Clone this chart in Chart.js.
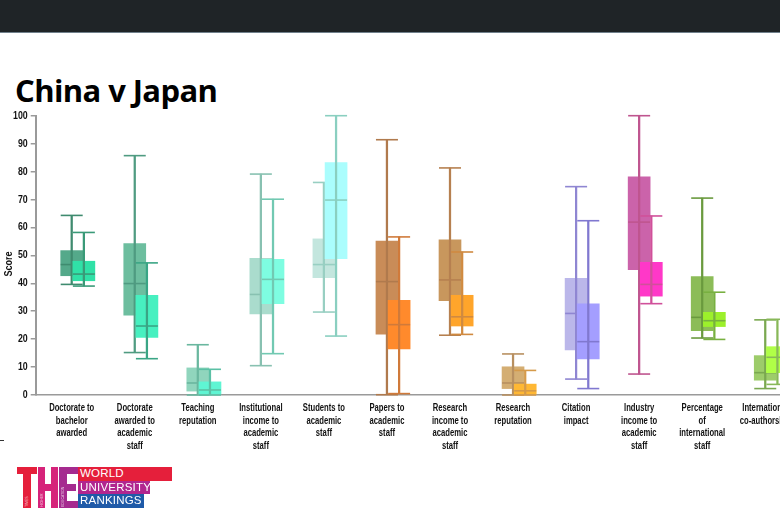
<!DOCTYPE html>
<html><head><meta charset="utf-8">
<script src="https://cdn.jsdelivr.net/npm/chart.js@4.4.1/dist/chart.umd.min.js"></script>
<style>
html,body{margin:0;padding:0;width:780px;height:520px;overflow:hidden;background:#fff;}
#hdr{position:absolute;left:0;top:0;width:780px;height:32px;background:#1f2427;border-bottom:1px solid #71818c;}
#title{position:absolute;left:15px;top:70px;font-family:'Open Sans',sans-serif;font-weight:700;font-size:31px;letter-spacing:-0.6px;color:#000;line-height:40px;white-space:nowrap;}
#wrap{position:absolute;left:0;top:0;width:830px;height:520px;}
#score{position:absolute;left:8px;top:264px;transform:translate(-50%,-50%) rotate(-90deg) scaleX(0.82);font-family:'Liberation Sans',Arial,sans-serif;font-weight:700;font-size:11px;color:#111;white-space:nowrap;}
#logo{position:absolute;left:16px;top:467px;width:160px;height:41px;}
#logo .b{position:absolute;}
#logo .bar{position:absolute;left:62px;height:13.7px;color:#fff;font-family:'Liberation Sans',Arial,sans-serif;font-size:11.5px;line-height:13.7px;padding-left:2px;box-sizing:border-box;letter-spacing:0.2px;}
#logo .tiny{position:absolute;color:rgba(255,255,255,0.75);font-family:'Liberation Sans',Arial,sans-serif;font-size:3.5px;transform:rotate(-90deg);transform-origin:left top;white-space:nowrap;}
#mark{position:absolute;left:0;top:440px;width:4px;height:1px;background:#333;}
</style></head>
<body>
<div id="hdr"></div>
<div id="title">China v Japan</div>
<div id="wrap"><canvas id="c" width="830" height="520"></canvas></div>
<div id="score">Score</div>
<div id="mark"></div>
<div id="logo">
  <div class="b" style="left:0.5px;top:0;width:20px;height:7px;background:#e51f3b"></div>
  <div class="b" style="left:7px;top:0;width:7.5px;height:41px;background:#e51f3b"></div>
  <div class="b" style="left:22px;top:0;width:7px;height:41px;background:#d6237a"></div>
  <div class="b" style="left:34.5px;top:0;width:7.5px;height:41px;background:#d6237a"></div>
  <div class="b" style="left:22px;top:17px;width:20px;height:7px;background:#d6237a"></div>
  <div class="b" style="left:43px;top:0;width:8px;height:41px;background:#a52a8f"></div>
  <div class="b" style="left:43px;top:0;width:19px;height:7px;background:#a52a8f"></div>
  <div class="b" style="left:43px;top:17px;width:17px;height:7px;background:#a52a8f"></div>
  <div class="b" style="left:43px;top:34px;width:19px;height:7px;background:#a52a8f"></div>
  <div class="tiny" style="left:8.5px;top:40px">TIMES</div>
  <div class="tiny" style="left:23.5px;top:40px">HIGHER</div>
  <div class="tiny" style="left:45px;top:40px">EDUCATION</div>
  <div class="bar" style="top:0;width:94px;background:#e51f3b">WORLD</div>
  <div class="bar" style="top:13.7px;width:72px;background:#b1268f">UNIVERSITY</div>
  <div class="bar" style="top:27.4px;width:66px;background:#1f5aa8">RANKINGS</div>
</div>
<script>
const categories = [
  ["Doctorate to","bachelor","awarded"],
  ["Doctorate","awarded to","academic","staff"],
  ["Teaching","reputation"],
  ["Institutional","income to","academic","staff"],
  ["Students to","academic","staff"],
  ["Papers to","academic","staff"],
  ["Research","income to","academic","staff"],
  ["Research","reputation"],
  ["Citation","impact"],
  ["Industry","income to","academic","staff"],
  ["Percentage","of","international","staff"],
  ["International","co-authorship"]
];
const yTicks = [0,10,20,30,40,50,60,70,80,90,100];

const chinaMin    = [39.6, 15.2, 0.0, 10.5, 29.7,  0.1, 21.4,  0.0,  5.7,   7.5, 20.4,  2.3];
const chinaQ1     = [42.7, 28.6, 1.4, 29.0, 42.0, 21.8, 33.8,  2.3, 16.1,  44.9, 23.0,  5.3];
const chinaMedian = [46.7, 39.9, 4.3, 36.0, 46.7, 40.6, 41.2,  4.3, 29.2,  61.9, 27.8,  8.0];
const chinaQ3     = [51.7, 54.2, 9.7, 48.9, 55.9, 55.1, 55.6, 10.1, 41.8,  78.1, 42.4, 14.1];
const chinaMax    = [64.3, 85.7, 18.0, 79.1, 76.1, 91.4, 81.3, 14.7, 74.6, 100.0, 70.5, 26.9];

const japanMin    = [39.0, 13.0, 0.0, 14.8, 21.1,  0.5, 21.7, 0.0,  2.3, 32.7, 19.9,  3.8];
const japanQ1     = [40.9, 20.6, 0.0, 32.7, 48.8, 16.5, 24.7, 0.0, 12.9, 35.4, 24.5,  8.0];
const japanMedian = [43.3, 24.7, 1.8, 41.4, 69.8, 25.2, 28.0, 1.5, 19.1, 39.6, 26.6, 13.5];
const japanQ3     = [47.9, 35.7, 4.7, 48.6, 83.2, 33.9, 35.7, 3.9, 32.6, 47.5, 29.6, 17.3];
const japanMax    = [58.2, 47.3, 9.2, 70.1, 100.0, 56.6, 51.2, 8.8, 62.4, 64.1, 36.8, 27.1];

const chinaBox  = ['#54a98a','#6dbe9f','#90d5bd','#aadccd','#c3e6de','#c98c58','#c8975d','#d4ae73','#bbb7ea','#cb63aa','#8cbc58','#9dcc6a'];
const chinaLine = ['#3f8b6f','#4f9b81','#6ab79f','#88c1b1','#98cfc2','#b07a4d','#b68050','#b89060','#8f86d2','#bf558f','#6a9a3e','#7aa850'];
const japanBox  = ['#30e1a7','#47f0c0','#5ff5d3','#7efde1','#aafdfd','#ff8a2c','#ffa52b','#ffb834','#a49eff','#ff38c8','#9cf02b','#b0ff47'];
const japanLine = ['#3a9a78','#3aa585','#5bc0a5','#72c9b2','#8acfc0','#d07a3a','#d08a40','#d59a4a','#8078d0','#d0509a','#78b040','#88b858'];

const japanOffset = 0.193;
const F = "'Liberation Sans',Arial,sans-serif";

const pts = (vals, off) => vals.map((v, i) => ({x: i + off, y: v}));
const rng = (lo, hi, off) => lo.map((v, i) => ({x: i + off, y: [v, hi[i]]}));

function side(mn, q1, md, q3, mx, boxC, lineC, off, base) {
  const cap = (vals, ord) => ({
    type: 'scatter', data: pts(vals, off), pointStyle: 'line', pointRadius: 11, pointHoverRadius: 11,
    pointBorderColor: lineC, pointBorderWidth: 1.6, pointBackgroundColor: lineC, borderColor: lineC,
    order: base + ord, clip: false
  });
  return [
    {type: 'bar', data: rng(q1, q3, off), backgroundColor: boxC, barThickness: 22, grouped: false, borderWidth: 0, order: base + 5, clip: false},
    {type: 'bar', data: rng(mn, mx, off), backgroundColor: lineC, barThickness: 1.6, grouped: false, borderWidth: 0, order: base + 4, clip: false},
    cap(mn, 3), cap(mx, 2), cap(md, 1)
  ];
}

const datasets = [
  ...side(chinaMin, chinaQ1, chinaMedian, chinaQ3, chinaMax, chinaBox, chinaLine, 0, 10),
  ...side(japanMin, japanQ1, japanMedian, japanQ3, japanMax, japanBox, japanLine, japanOffset, 0)
];

// draws the axes' own tick labels in a condensed (horizontally narrowed) form
const condense = {
  id: 'condense',
  beforeDraw(chart, args, opts) {
    for (const [id, sx] of Object.entries(opts.factors || {})) {
      const s = chart.scales[id];
      if (!s || s.__condensed) continue;
      const orig = s.drawLabels;
      s.drawLabels = function (area) {
        const ctx = this.ctx;
        const rot = ctx.rotate;
        ctx.rotate = function (a) { rot.call(this, a); this.scale(sx, 1); };
        try { orig.call(this, area); } finally { delete ctx.rotate; }
      };
      s.__condensed = true;
    }
  }
};

new Chart(document.getElementById('c'), {
  type: 'bar',
  data: {datasets},
  plugins: [condense],
  options: {
    responsive: false, animation: false, devicePixelRatio: 1,
    layout: {autoPadding: false, padding: {top: 115.7, left: 0, right: 0, bottom: 0}},
    plugins: {legend: {display: false}, tooltip: {enabled: false}, condense: {factors: {x: 0.73, y: 0.8}}},
    scales: {
      x: {
        type: 'linear', min: -0.571, max: 12.027, offset: false,
        afterBuildTicks: (a) => { a.ticks = categories.map((_, i) => ({value: i})); },
        afterFit: (s) => { s.height = 125; s.paddingLeft = 0; s.paddingRight = 0; },
        grid: {display: false, drawTicks: false},
        border: {display: true, color: '#9a9a9a', width: 1.5},
        ticks: {autoSkip: false, maxRotation: 0, minRotation: 0, padding: 7, color: '#111',
          font: {family: F, size: 10.5, weight: 'bold', lineHeight: 1.2},
          callback: (v) => categories[v] ?? ''}
      },
      y: {
        min: 0, max: 100,
        afterBuildTicks: (a) => { a.ticks = yTicks.map(v => ({value: v})); },
        afterFit: (s) => { s.width = 35.7; },
        ticks: {padding: 3, color: '#111', font: {family: F, size: 11, weight: 'bold'}},
        grid: {drawOnChartArea: false, drawTicks: true, tickLength: 5, color: '#9a9a9a', lineWidth: 1.5},
        border: {color: '#9a9a9a', width: 2}
      }
    }
  }
});
</script>
</body></html>
